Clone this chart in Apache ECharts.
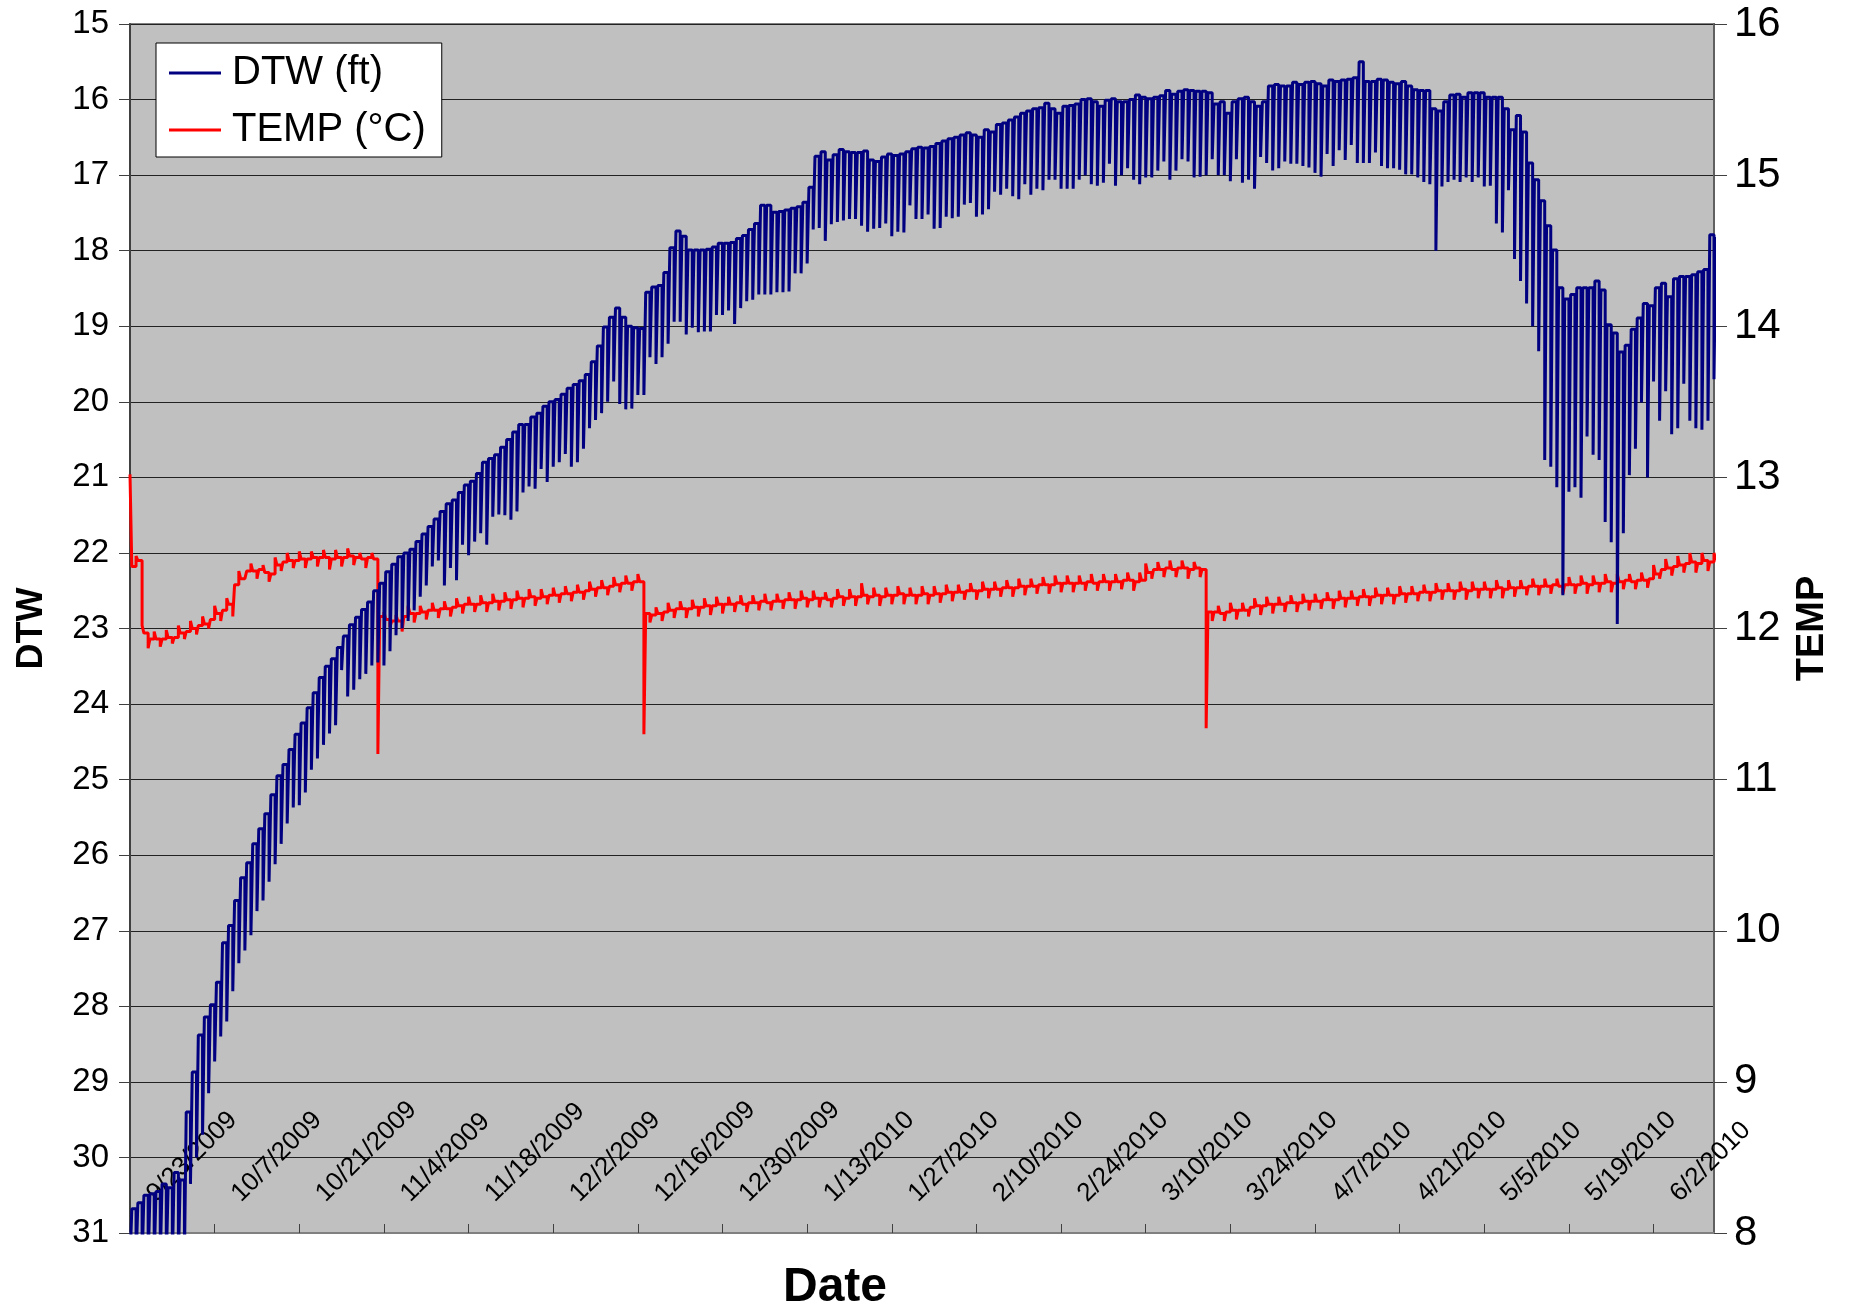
<!DOCTYPE html>
<html>
<head>
<meta charset="utf-8">
<title>DTW / TEMP</title>
<script src="https://cdn.jsdelivr.net/npm/echarts@6.0.0/dist/echarts.min.js"></script>
<style>
  html, body { margin: 0; padding: 0; background: #fff; }
  #chart { width: 1853px; height: 1307px; }
</style>
</head>
<body>
<div id="chart"></div>
<script>
// date labels, one every 14 days (day 0 = left edge of the plot)
var tickLabels = ['9/23/2009', '10/7/2009', '10/21/2009', '11/4/2009', '11/18/2009', '12/2/2009',
  '12/16/2009', '12/30/2009', '1/13/2010', '1/27/2010', '2/10/2010', '2/24/2010', '3/10/2010',
  '3/24/2010', '4/7/2010', '4/21/2010', '5/5/2010', '5/19/2010', '6/2/2010'];

// DTW (ft), one held reading per day (shallow level)
var dtwTop = [
  30.68, 30.6, 30.5, 30.48, 30.45, 30.35, 30.4, 30.2, 30.3, 29.4, 28.87, 28.38, 28.14, 27.98,
  27.68, 27.16, 26.93, 26.6, 26.3, 26.1, 25.85, 25.65, 25.45, 25.2, 24.95, 24.8, 24.6, 24.4,
  24.25, 24.05, 23.85, 23.65, 23.5, 23.4, 23.25, 23.1, 22.95, 22.85, 22.75, 22.65, 22.5, 22.4,
  22.25, 22.15, 22.05, 22.0, 21.95, 21.85, 21.75, 21.65, 21.55, 21.45, 21.35, 21.3, 21.2, 21.1,
  21.05, 20.95, 20.8, 20.75, 20.7, 20.6, 20.5, 20.4, 20.3, 20.3, 20.2, 20.15, 20.06, 20.0,
  19.97, 19.9, 19.82, 19.77, 19.72, 19.64, 19.47, 19.26, 19.01, 18.88, 18.76, 18.88, 19.0, 19.02,
  19.03, 18.55, 18.48, 18.46, 18.29, 17.96, 17.74, 17.81, 17.99, 17.99, 17.99, 17.98, 17.95, 17.9,
  17.9, 17.89, 17.84, 17.8, 17.72, 17.64, 17.4, 17.4, 17.49, 17.48, 17.46, 17.44, 17.42, 17.36,
  17.16, 16.75, 16.69, 16.8, 16.73, 16.66, 16.69, 16.7, 16.7, 16.68, 16.8, 16.82, 16.76, 16.72,
  16.74, 16.72, 16.69, 16.65, 16.63, 16.64, 16.62, 16.58, 16.55, 16.52, 16.5, 16.47, 16.44, 16.47,
  16.5, 16.4, 16.43, 16.33, 16.31, 16.27, 16.23, 16.18, 16.15, 16.12, 16.11, 16.05, 16.12, 16.18,
  16.09, 16.08, 16.06, 16.0, 15.99, 16.03, 16.09, 16.01, 15.99, 16.03, 16.03, 16.0, 15.94, 15.97,
  15.99, 15.97, 15.95, 15.88, 15.93, 15.89, 15.87, 15.88, 15.89, 15.89, 15.91, 16.06, 16.03, 16.18,
  16.03, 15.99, 15.97, 16.03, 16.09, 16.03, 15.82, 15.8, 15.82, 15.82, 15.77, 15.8, 15.77, 15.76,
  15.79, 15.82, 15.74, 15.76, 15.74, 15.73, 15.71, 15.5, 15.76, 15.76, 15.73, 15.74, 15.77, 15.79,
  15.76, 15.82, 15.87, 15.88, 15.88, 16.12, 16.15, 16.03, 15.94, 15.93, 15.97, 15.91, 15.91, 15.91,
  15.97, 15.97, 15.97, 16.12, 16.4, 16.21, 16.43, 16.84, 17.06, 17.34, 17.67, 17.99, 18.49, 18.64,
  18.58, 18.49, 18.49, 18.49, 18.4, 18.52, 18.98, 19.09, 19.34, 19.25, 19.04, 18.89, 18.7, 18.73,
  18.49, 18.43, 18.61, 18.37, 18.34, 18.34, 18.32, 18.28, 18.25, 17.79, 17.82
];

// DTW (ft), brief deep reading each day (drawdown spike)
var dtwLow = [
  31.4, 31.4, 31.4, 31.4, 31.4, 31.4, 31.4, 31.4, 31.4, 31.4, 30.35, 30.0, 29.7, 29.15,
  28.73, 28.4, 28.2, 27.8, 27.43, 27.26, 27.06, 26.74, 26.6, 26.35, 26.12, 25.85, 25.58, 25.37,
  25.34, 25.17, 24.87, 24.72, 24.54, 24.39, 24.28, 23.55, 23.9, 23.81, 23.67, 23.6, 23.49, 23.45,
  23.49, 23.3, 23.09, 23.0, 22.9, 22.76, 22.58, 22.43, 22.18, 22.1, 22.43, 22.2, 22.36, 21.89,
  22.03, 21.85, 21.74, 21.89, 21.52, 21.49, 21.5, 21.56, 21.45, 21.2, 21.12, 21.15, 20.89, 21.06,
  20.86, 20.8, 20.69, 20.86, 20.8, 20.62, 20.35, 20.24, 20.15, 20.0, 19.73, 20.03, 20.1, 20.09,
  19.91, 19.91, 19.41, 19.5, 19.41, 19.23, 18.94, 18.94, 19.11, 19.02, 19.08, 19.07, 19.07, 18.85,
  18.85, 18.79, 18.97, 18.76, 18.67, 18.65, 18.58, 18.58, 18.58, 18.55, 18.55, 18.54, 18.3, 18.3,
  18.17, 17.72, 17.7, 17.87, 17.65, 17.62, 17.6, 17.58, 17.58, 17.67, 17.75, 17.71, 17.7, 17.64,
  17.81, 17.75, 17.76, 17.4, 17.58, 17.58, 17.52, 17.71, 17.7, 17.55, 17.57, 17.55, 17.39, 17.37,
  17.55, 17.52, 17.45, 17.22, 17.26, 17.18, 17.28, 17.32, 17.12, 17.26, 17.18, 17.2, 17.06, 17.06,
  17.18, 17.18, 17.18, 17.06, 17.0, 17.12, 17.14, 17.1, 16.85, 17.14, 17.0, 16.91, 17.06, 17.12,
  17.03, 17.03, 16.94, 16.82, 17.06, 16.94, 16.79, 16.82, 17.03, 17.02, 17.0, 16.79, 17.0, 17.0,
  17.08, 16.79, 17.1, 17.06, 17.18, 16.76, 16.84, 16.94, 16.91, 16.82, 16.85, 16.85, 16.88, 16.9,
  16.97, 17.02, 16.72, 16.88, 16.67, 16.8, 16.6, 16.84, 16.84, 16.84, 16.7, 16.88, 16.91, 16.91,
  16.93, 16.99, 16.99, 17.03, 17.09, 17.12, 18.0, 17.15, 17.09, 17.06, 17.09, 17.03, 17.09, 17.03,
  17.15, 17.14, 17.64, 17.76, 17.2, 18.11, 18.4, 18.7, 19.0, 19.33, 20.77, 20.86, 21.13, 22.56,
  21.19, 21.13, 21.27, 20.46, 20.7, 20.77, 21.59, 21.86, 22.94, 21.74, 20.97, 20.62, 20.01, 21.0,
  19.73, 20.25, 19.86, 20.43, 20.35, 19.76, 20.25, 20.35, 20.37, 20.25, 19.7
];

// TEMP (°C), held reading per day
var tempBase = [
  12.41, 12.45, 11.97, 11.93, 11.93, 11.93, 11.94, 11.94, 11.97, 11.98, 12.0, 12.02, 12.03, 12.06,
  12.1, 12.12, 12.16, 12.29, 12.33, 12.38, 12.38, 12.39, 12.37, 12.36, 12.42, 12.44, 12.45, 12.45,
  12.46, 12.46, 12.47, 12.47, 12.47, 12.46, 12.47, 12.47, 12.48, 12.47, 12.46, 12.47, 12.46, 12.08,
  12.06, 12.05, 12.05, 12.08, 12.1, 12.1, 12.11, 12.12, 12.12, 12.13, 12.13, 12.14, 12.15, 12.16,
  12.16, 12.16, 12.17, 12.17, 12.18, 12.18, 12.19, 12.19, 12.2, 12.2, 12.21, 12.2, 12.21, 12.22,
  12.22, 12.23, 12.23, 12.24, 12.24, 12.25, 12.26, 12.27, 12.27, 12.28, 12.29, 12.3, 12.3, 12.31,
  12.31, 12.1, 12.09, 12.1, 12.11, 12.12, 12.13, 12.13, 12.13, 12.14, 12.14, 12.15, 12.15, 12.16,
  12.16, 12.16, 12.17, 12.16, 12.17, 12.17, 12.18, 12.17, 12.18, 12.18, 12.19, 12.19, 12.19, 12.2,
  12.19, 12.2, 12.2, 12.19, 12.2, 12.21, 12.2, 12.21, 12.21, 12.22, 12.21, 12.22, 12.21, 12.22,
  12.22, 12.23, 12.22, 12.22, 12.22, 12.23, 12.22, 12.23, 12.23, 12.24, 12.24, 12.24, 12.25, 12.25,
  12.25, 12.26, 12.26, 12.26, 12.27, 12.27, 12.27, 12.28, 12.28, 12.28, 12.29, 12.29, 12.29, 12.3,
  12.3, 12.3, 12.3, 12.3, 12.31, 12.3, 12.31, 12.31, 12.31, 12.31, 12.32, 12.32, 12.31, 12.32,
  12.37, 12.39, 12.39, 12.4, 12.39, 12.4, 12.4, 12.39, 12.4, 12.39, 12.11, 12.11, 12.1, 12.11,
  12.12, 12.12, 12.12, 12.14, 12.15, 12.15, 12.16, 12.16, 12.16, 12.17, 12.17, 12.17, 12.18, 12.18,
  12.18, 12.19, 12.19, 12.19, 12.2, 12.2, 12.2, 12.21, 12.21, 12.21, 12.22, 12.22, 12.22, 12.22,
  12.23, 12.23, 12.23, 12.24, 12.24, 12.24, 12.25, 12.25, 12.25, 12.25, 12.26, 12.25, 12.26, 12.26,
  12.26, 12.26, 12.27, 12.26, 12.27, 12.27, 12.27, 12.28, 12.28, 12.28, 12.28, 12.29, 12.28, 12.29,
  12.29, 12.29, 12.3, 12.29, 12.3, 12.3, 12.31, 12.3, 12.31, 12.32, 12.31, 12.32, 12.32, 12.33,
  12.36, 12.39, 12.4, 12.41, 12.42, 12.43, 12.44, 12.43, 12.45, 12.44, 12.45
];

// TEMP (°C), brief reading each day
var tempSpike = [
  13.02, 12.48, 12.02, 11.87, 11.98, 11.88, 11.99, 11.9, 12.02, 11.93, 12.05, 11.96, 12.08, 12.0,
  12.15, 12.05, 12.2, 12.08, 12.38, 12.33, 12.43, 12.33, 12.42, 12.31, 12.47, 12.38, 12.5, 12.4,
  12.51, 12.4, 12.51, 12.41, 12.52, 12.39, 12.52, 12.41, 12.53, 12.42, 12.5, 12.4, 12.5, 11.17,
  12.11, 12.01, 12.09, 11.98, 12.15, 12.04, 12.15, 12.06, 12.17, 12.07, 12.18, 12.08, 12.2, 12.1,
  12.21, 12.11, 12.22, 12.11, 12.23, 12.12, 12.24, 12.13, 12.25, 12.14, 12.26, 12.15, 12.26, 12.16,
  12.27, 12.17, 12.28, 12.18, 12.29, 12.19, 12.31, 12.21, 12.32, 12.22, 12.34, 12.24, 12.35, 12.25,
  12.36, 11.3, 12.04, 12.14, 12.05, 12.17, 12.07, 12.18, 12.07, 12.19, 12.08, 12.2, 12.09, 12.21,
  12.1, 12.21, 12.11, 12.22, 12.11, 12.22, 12.12, 12.23, 12.12, 12.23, 12.13, 12.24, 12.13, 12.25,
  12.14, 12.25, 12.14, 12.24, 12.14, 12.26, 12.15, 12.26, 12.15, 12.3, 12.16, 12.27, 12.15, 12.27,
  12.16, 12.28, 12.16, 12.27, 12.16, 12.28, 12.16, 12.28, 12.17, 12.29, 12.18, 12.29, 12.19, 12.3,
  12.19, 12.31, 12.2, 12.31, 12.21, 12.32, 12.21, 12.33, 12.22, 12.33, 12.23, 12.34, 12.23, 12.35,
  12.24, 12.35, 12.24, 12.35, 12.25, 12.36, 12.25, 12.36, 12.25, 12.36, 12.26, 12.37, 12.25, 12.37,
  12.43, 12.33, 12.44, 12.34, 12.45, 12.34, 12.45, 12.33, 12.44, 12.34, 11.34, 12.05, 12.15, 12.05,
  12.17, 12.06, 12.17, 12.08, 12.2, 12.09, 12.21, 12.1, 12.21, 12.11, 12.22, 12.11, 12.23, 12.12,
  12.23, 12.13, 12.24, 12.13, 12.25, 12.14, 12.25, 12.15, 12.26, 12.15, 12.27, 12.16, 12.27, 12.16,
  12.28, 12.17, 12.28, 12.18, 12.29, 12.18, 12.3, 12.19, 12.3, 12.19, 12.31, 12.19, 12.31, 12.2,
  12.31, 12.2, 12.32, 12.2, 12.32, 12.21, 12.32, 12.22, 12.33, 12.22, 12.33, 12.23, 12.33, 12.23,
  12.34, 12.23, 12.35, 12.23, 12.35, 12.24, 12.36, 12.24, 12.36, 12.26, 12.36, 12.26, 12.37, 12.27,
  12.42, 12.33, 12.46, 12.35, 12.48, 12.37, 12.5, 12.37, 12.5, 12.38, 12.5
];

// brief reading at the start of each day, held reading for the rest of it
function buildLine(brief, held) {
  var pts = [];
  for (var i = 0; i < held.length; i++) {
    pts.push([i, brief[i]]);
    pts.push([i + 0.3, held[i]]);
  }
  return pts;
}

var font = '"Liberation Sans", Arial, sans-serif';
let myChart = echarts.init(document.getElementById('chart'));

myChart.setOption({
  animation: false,
  textStyle: { fontFamily: font, color: '#000' },
  grid: {
    left: 130, right: 139, top: 24, bottom: 74,
    show: true,
    backgroundColor: '#c0c0c0',
    borderColor: '#808080',
    borderWidth: 2,
    containLabel: false,
    outerBoundsMode: 'none'
  },
  legend: {
    data: ['DTW (ft)', 'TEMP (°C)'],
    orient: 'vertical',
    left: 156, top: 43,
    icon: 'rect',
    backgroundColor: '#fff',
    borderColor: '#000',
    borderWidth: 1,
    borderRadius: 0,
    padding: [6, 16, 3, 13],
    itemGap: 9,
    itemWidth: 52,
    itemHeight: 3,
    textStyle: { fontSize: 40, color: '#000', lineHeight: 48, fontFamily: font, padding: [0, 0, 0, 6] }
  },
  graphic: [{
    type: 'text',
    x: 835, y: 1288,
    style: { text: 'Date', font: 'bold 48px ' + font, fill: '#000', align: 'center', verticalAlign: 'middle' }
  }],
  xAxis: {
    type: 'value',
    min: 0, max: 262, interval: 14,
    axisLine: { show: true, lineStyle: { color: '#808080', width: 2 } },
    axisTick: { show: true, inside: true, length: 9, lineStyle: { color: '#404040', width: 1 } },
    axisLabel: {
      inside: true, rotate: 45, margin: 14, padding: [0, 0, 0, 30],
      fontSize: 26, color: '#000', fontFamily: font,
      showMinLabel: true, showMaxLabel: false,
      formatter: function (v) { return v % 14 === 0 ? (tickLabels[v / 14] || '') : ''; }
    },
    splitLine: { show: false }
  },
  yAxis: [
    {
      type: 'value', inverse: true, min: 15, max: 31, interval: 1,
      name: 'DTW', nameLocation: 'middle', nameRotate: 90, nameGap: 80,
      nameTextStyle: { fontSize: 36, fontWeight: 'bold', color: '#000', fontFamily: font },
      axisLine: { show: true, lineStyle: { color: '#404040', width: 2 } },
      axisTick: { show: true, length: 11, lineStyle: { color: '#404040', width: 1 } },
      axisLabel: { fontSize: 33, margin: 21, color: '#000', fontFamily: font },
      splitLine: { show: true, lineStyle: { color: '#222', width: 1 } }
    },
    {
      type: 'value', min: 8, max: 16, interval: 1,
      name: 'TEMP', nameLocation: 'middle', nameRotate: 90, nameGap: 80,
      nameTextStyle: { fontSize: 38, fontWeight: 'bold', color: '#000', fontFamily: font },
      axisLine: { show: true, lineStyle: { color: '#606060', width: 2 } },
      axisTick: { show: true, length: 13, lineStyle: { color: '#404040', width: 1 } },
      axisLabel: { fontSize: 42, margin: 20, color: '#000', fontFamily: font },
      splitLine: { show: false }
    }
  ],
  series: [
    {
      name: 'TEMP (°C)',
      type: 'line',
      yAxisIndex: 1,
      data: buildLine(tempSpike, tempBase),
      step: 'end',
      symbol: 'none',
      z: 2,
      color: '#ff0000',
      lineStyle: { color: '#ff0000', width: 3 }
    },
    {
      name: 'DTW (ft)',
      type: 'line',
      yAxisIndex: 0,
      data: buildLine(dtwLow, dtwTop),
      step: 'end',
      symbol: 'none',
      z: 3,
      color: '#000080',
      lineStyle: { color: '#000080', width: 3 }
    }
  ]
});
</script>
</body>
</html>
